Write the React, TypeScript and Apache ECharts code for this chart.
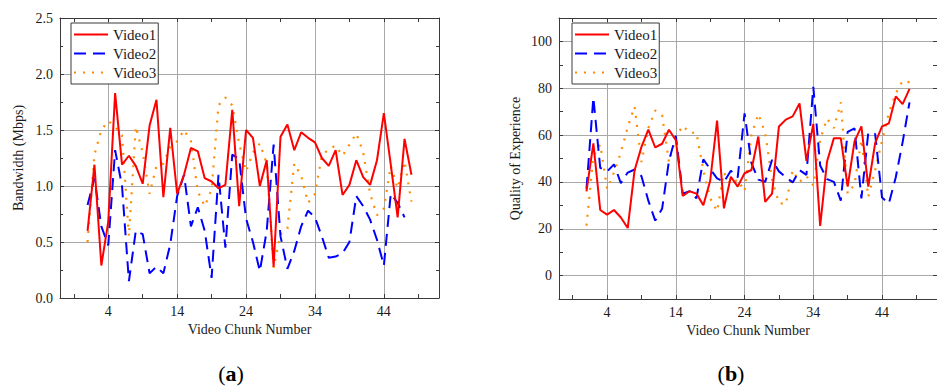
import { useEffect, useRef } from 'react';
import * as echarts from 'echarts';

// Chunk index (x) shared by every series
const chunks = Array.from({ length: 48 }, (_, i) => i + 1);

// (a) Bandwidth per chunk, Mbps
const bwVideo1 = [0.60, 1.19, 0.29, 0.68, 1.83, 1.19, 1.27, 1.18, 1.02, 1.54, 1.77, 0.90, 1.52, 0.93, 1.10, 1.34,
  1.31, 1.07, 1.04, 0.98, 1.01, 1.68, 0.82, 1.50, 1.43, 1.00, 1.23, 0.28, 1.44, 1.55, 1.32, 1.48,
  1.43, 1.39, 1.25, 1.18, 1.32, 0.92, 1.01, 1.23, 1.08, 1.01, 1.23, 1.65, 1.19, 0.72, 1.42, 1.10];
const bwVideo2 = [0.83, 1.07, 0.64, 0.47, 1.32, 1.00, 0.15, 0.60, 0.57, 0.22, 0.28, 0.22, 0.48, 0.91, 1.10, 0.64,
  0.81, 0.60, 0.18, 1.10, 0.45, 1.28, 1.24, 0.71, 0.50, 0.24, 0.60, 1.37, 0.55, 0.26, 0.42, 0.64,
  0.78, 0.72, 0.55, 0.36, 0.37, 0.40, 0.50, 0.91, 0.82, 0.70, 0.52, 0.29, 0.93, 0.85, 0.72, null];
const bwVideo3 = [0.50, 1.28, 1.50, 1.58, 1.53, 1.45, 0.55, 1.53, 1.30, 0.93, 1.18, 1.20, 1.35, 1.40, 1.50, 1.40,
  0.95, 0.82, 0.97, 1.72, 1.79, 1.72, 1.38, 1.13, 1.30, 1.38, 1.20, 0.27, 0.57, 0.62, 1.20, 1.09,
  0.85, 0.93, 1.27, 1.33, 1.36, 1.27, 1.37, 1.47, 1.30, 0.93, 0.74, 0.80, 1.18, 0.98, 1.22, 0.86];

// (b) Quality of experience per chunk
const qoeVideo1 = [36, 56.5, 28, 26, 28, 24.8, 20.3, 45, 55, 62.3, 54.7, 56.3, 62.3, 57.8, 34, 36,
  35, 30, 40.5, 66.2, 28.7, 42.2, 38, 43.7, 45.1, 59.4, 31.5, 35, 63.7, 66.6, 68, 73.5,
  49, 64.8, 21.2, 48.7, 58.7, 58.7, 38, 57.3, 63.7, 38, 56.6, 63.7, 65, 76.5, 73.2, 79.7];
const qoeVideo2 = [37, 76, 46, 44.5, 47.5, 39.5, 44, 45.3, 42.4, 32, 23.5, 28.5, 49, 59.7, 35, 36,
  33, 49.6, 45.5, 41.5, 40, 44.8, 41.9, 69.3, 48, 41, 40, 49.4, 44.5, 42, 39.8, 45,
  43, 80.6, 47, 41.2, 40, 32, 61.4, 62.9, 33, 61, 60.5, 33.3, 30.8, 42, 57, 74];
const qoeVideo3 = [21.3, 51, 56, 37, 44, 52.5, 63.5, 72.2, 48.5, 63, 70.5, 68.5, 48.5, 59, 64, 61,
  61, 45, 33, 27.5, 44, 39, 41, 36, 60, 69, 61, 41, 31, 30.5, 45, 40,
  42.5, 38.5, 58, 67, 63, 74, 35, 39, 58, 33.6, 45, 57.5, 69.5, 77.8, 83.2, 82.5];

const seriesNames = ['Video1', 'Video2', 'Video3'];
const xTickValues = [-1, 4, 9, 14, 19, 24, 29, 34, 39, 44, 49];
const xLabelValues = [4, 14, 24, 34, 44];

const FONT = '"Liberation Serif", "Times New Roman", serif';
const FRAME = '#3a3a3a';
const GRID = '#a8a8a8';
const TEXT = '#1a1a1a';

const lineStyles = [
  { color: '#ff0000', width: 2, type: 'solid' as const },
  { color: '#0000ff', width: 2, type: [12, 7] },
  { color: '#ff8c00', width: 2.2, type: [2, 7] },
];

const pairs = (vals: (number | null)[]) => vals.map((v, i) => [chunks[i], v]);

function xAxesFor(gridIndex: number) {
  const common = {
    type: 'value' as const,
    gridIndex,
    min: -3,
    max: 52,
    axisLine: { show: true, onZero: false, lineStyle: { color: FRAME, width: 1 } },
    axisTick: { show: true, inside: true, length: 4, customValues: xTickValues, lineStyle: { color: FRAME } },
  };
  return [
    {
      ...common,
      position: 'bottom',
      name: 'Video Chunk Number',
      nameLocation: 'middle',
      nameGap: 21,
      nameTextStyle: { fontFamily: FONT, fontSize: 14, color: TEXT },
      axisLabel: { show: true, customValues: xLabelValues, margin: 6, fontFamily: FONT, fontSize: 14, color: TEXT },
      splitLine: { show: true, lineStyle: { color: ['transparent', GRID], width: 1 } },
    },
    {
      ...common,
      position: 'top',
      axisLabel: { show: false },
      splitLine: { show: false },
    },
  ];
}

function yAxesFor(gridIndex: number, cfg: any) {
  const common = {
    type: 'value' as const,
    gridIndex,
    min: cfg.min,
    max: cfg.max,
    interval: cfg.interval,
    axisLine: { show: true, onZero: false, lineStyle: { color: FRAME, width: 1 } },
    axisTick: { show: true, inside: true, length: 4, lineStyle: { color: FRAME } },
    minorTick: cfg.minor ? { show: true, splitNumber: 2, length: 3, lineStyle: { color: FRAME } } : { show: false },
  };
  return [
    {
      ...common,
      position: 'left',
      name: cfg.name,
      nameLocation: 'middle',
      nameGap: cfg.nameGap,
      nameRotate: 90,
      nameTextStyle: { fontFamily: FONT, fontSize: 14, color: TEXT },
      axisLabel: { show: true, margin: 7, fontFamily: FONT, fontSize: 14, color: TEXT, formatter: cfg.formatter },
      splitLine: { show: true, lineStyle: { color: cfg.splitColors, width: 1 } },
    },
    {
      ...common,
      position: 'right',
      axisLabel: { show: false },
      splitLine: { show: false },
    },
  ];
}

function seriesFor(gridIndex: number, values: (number | null)[][]) {
  return values.map((vals, k) => ({
    type: 'line',
    name: seriesNames[k],
    xAxisIndex: gridIndex * 2,
    yAxisIndex: gridIndex * 2,
    data: pairs(vals),
    showSymbol: false,
    symbol: 'none',
    connectNulls: false,
    lineStyle: lineStyles[k],
    itemStyle: { color: lineStyles[k].color },
    emphasis: { disabled: true },
    z: 3 - k,
  }));
}

function legendAt(left: number) {
  return {
    orient: 'vertical',
    left,
    top: 23,
    data: seriesNames,
    itemWidth: 34,
    itemHeight: 14,
    itemGap: 4,
    padding: [4, 2, 4, 2],
    backgroundColor: '#ffffff',
    borderColor: FRAME,
    borderWidth: 1,
    borderRadius: 0,
    selectedMode: false,
    itemStyle: { opacity: 0 },
    textStyle: { fontFamily: FONT, fontSize: 15, color: TEXT },
  };
}

function panelLabel(letter: string, x: number) {
  return {
    type: 'text',
    x,
    y: 373,
    style: {
      text: `{p|(}{b|${letter}}{p|)}`,
      align: 'center',
      verticalAlign: 'middle',
      rich: {
        p: { fontFamily: FONT, fontSize: 22, color: TEXT },
        b: { fontFamily: FONT, fontSize: 22, fontWeight: 'bold', color: TEXT },
      },
    },
  };
}

export default function App() {
  const ref = useRef<HTMLDivElement>(null);

  useEffect(() => {
    if (!ref.current) return;
    const chart = echarts.init(ref.current, undefined, { renderer: 'svg' });
    chart.setOption({
      animation: false,
      backgroundColor: '#ffffff',
      grid: [
        { left: 60, top: 18, width: 379, height: 280 },
        { left: 559, top: 18, width: 381, height: 281 },
      ],
      xAxis: [...xAxesFor(0), ...xAxesFor(1)],
      yAxis: [
        ...yAxesFor(0, {
          min: 0, max: 2.5, interval: 0.5, minor: true,
          name: 'Bandwidth (Mbps)', nameGap: 35,
          formatter: (v: number) => v.toFixed(1),
          splitColors: GRID,
        }),
        ...yAxesFor(1, {
          min: -10, max: 110, interval: 10, minor: false,
          name: 'Quality of Experience', nameGap: 37,
          formatter: (v: number) => (v % 20 === 0 ? String(v) : ''),
          splitColors: ['transparent', GRID],
        }),
      ],
      legend: [legendAt(71), legendAt(572)],
      series: [
        ...seriesFor(0, [bwVideo1, bwVideo2, bwVideo3]),
        ...seriesFor(1, [qoeVideo1, qoeVideo2, qoeVideo3]),
      ],
      graphic: [panelLabel('a', 231), panelLabel('b', 731)],
    });
    return () => chart.dispose();
  }, []);

  return (
    <div
      ref={ref}
      style={{ position: 'absolute', left: 0, top: 0, width: 937, height: 387, background: '#fff' }}
    />
  );
}
